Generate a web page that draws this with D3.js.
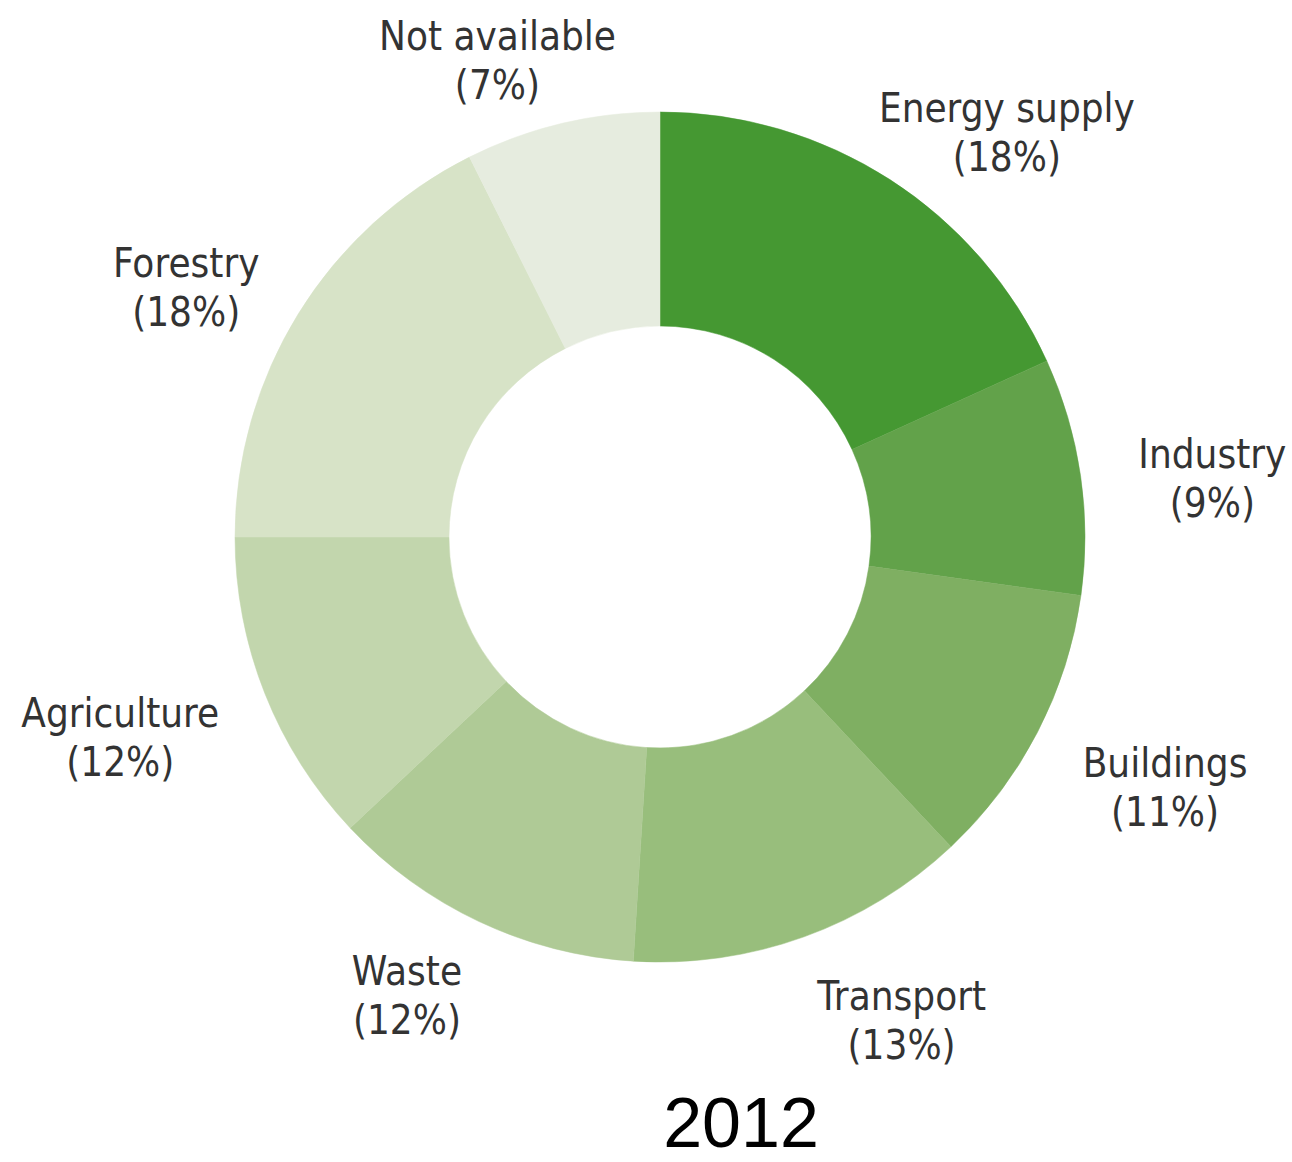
<!DOCTYPE html>
<html>
<head>
<meta charset="utf-8">
<script src="https://cdn.jsdelivr.net/npm/d3@7"></script>
<style>
  html, body { margin: 0; padding: 0; background: #fff; }
  svg { display: block; }
</style>
</head>
<body>
<svg id="chart" width="1292" height="1162"></svg>
<script>
// ---- data ----
const categories = ["Energy supply", "Industry", "Buildings", "Transport", "Waste", "Agriculture", "Forestry", "Not available"];
const shares = [18.2, 9.0, 10.8, 13.0, 12.0, 12.0, 17.6, 7.4];
const shareLabels = ["(18%)", "(9%)", "(11%)", "(13%)", "(12%)", "(12%)", "(18%)", "(7%)"];
const colors = ["#459832", "#62A24A", "#7FAF62", "#98BE7C", "#AFCA96", "#C2D6AD", "#D7E3C7", "#E6ECDF"];
const yearLabel = "2012";

// label nudges (layout only), relative to the arc centroid at label radius
const labelNudge = [[52, 51], [13, 17], [21, -2], [57, -32], [-21, -37], [-33, -3], [-10, 34], [-37, 51]];

// ---- layout ----
const cx = 660, cy = 537, outerR = 425, innerR = 211, labelR = 545;
const svg = d3.select("#chart");
const g = svg.append("g").attr("transform", `translate(${cx},${cy})`);

const data = categories.map((c, i) => ({ name: c, value: shares[i], pct: shareLabels[i], color: colors[i], nudge: labelNudge[i] }));
const pie = d3.pie().value(d => d.value).sort(null);
const arc = d3.arc().innerRadius(innerR).outerRadius(outerR);
const labelArc = d3.arc().innerRadius(labelR).outerRadius(labelR);

const arcs = pie(data);
g.selectAll("path.slice").data(arcs).join("path")
  .attr("class", "slice")
  .attr("d", arc)
  .attr("fill", d => d.data.color)
  .attr("stroke", d => d.data.color)
  .attr("stroke-width", 0.5);

const font = "'DejaVu Sans', sans-serif";
const lbl = g.selectAll("g.lbl").data(arcs).join("g")
  .attr("class", "lbl")
  .attr("transform", d => {
    const [x, y] = labelArc.centroid(d);
    return `translate(${x + d.data.nudge[0]},${y + d.data.nudge[1]}) scale(0.9,1)`;
  });
lbl.append("text")
  .attr("text-anchor", "middle")
  .attr("y", -8)
  .attr("font-family", font)
  .attr("font-size", 40)
  .attr("fill", "#333333")
  .text(d => d.data.name);
lbl.append("text")
  .attr("text-anchor", "middle")
  .attr("y", 41)
  .attr("font-family", font)
  .attr("font-size", 40)
  .attr("fill", "#333333")
  .text(d => d.data.pct);

svg.append("text")
  .attr("x", 741).attr("y", 1147)
  .attr("text-anchor", "middle")
  .attr("font-family", "'Liberation Sans', Arial, sans-serif")
  .attr("font-size", 70)
  .attr("fill", "#000")
  .text(yearLabel);
</script>
</body>
</html>
